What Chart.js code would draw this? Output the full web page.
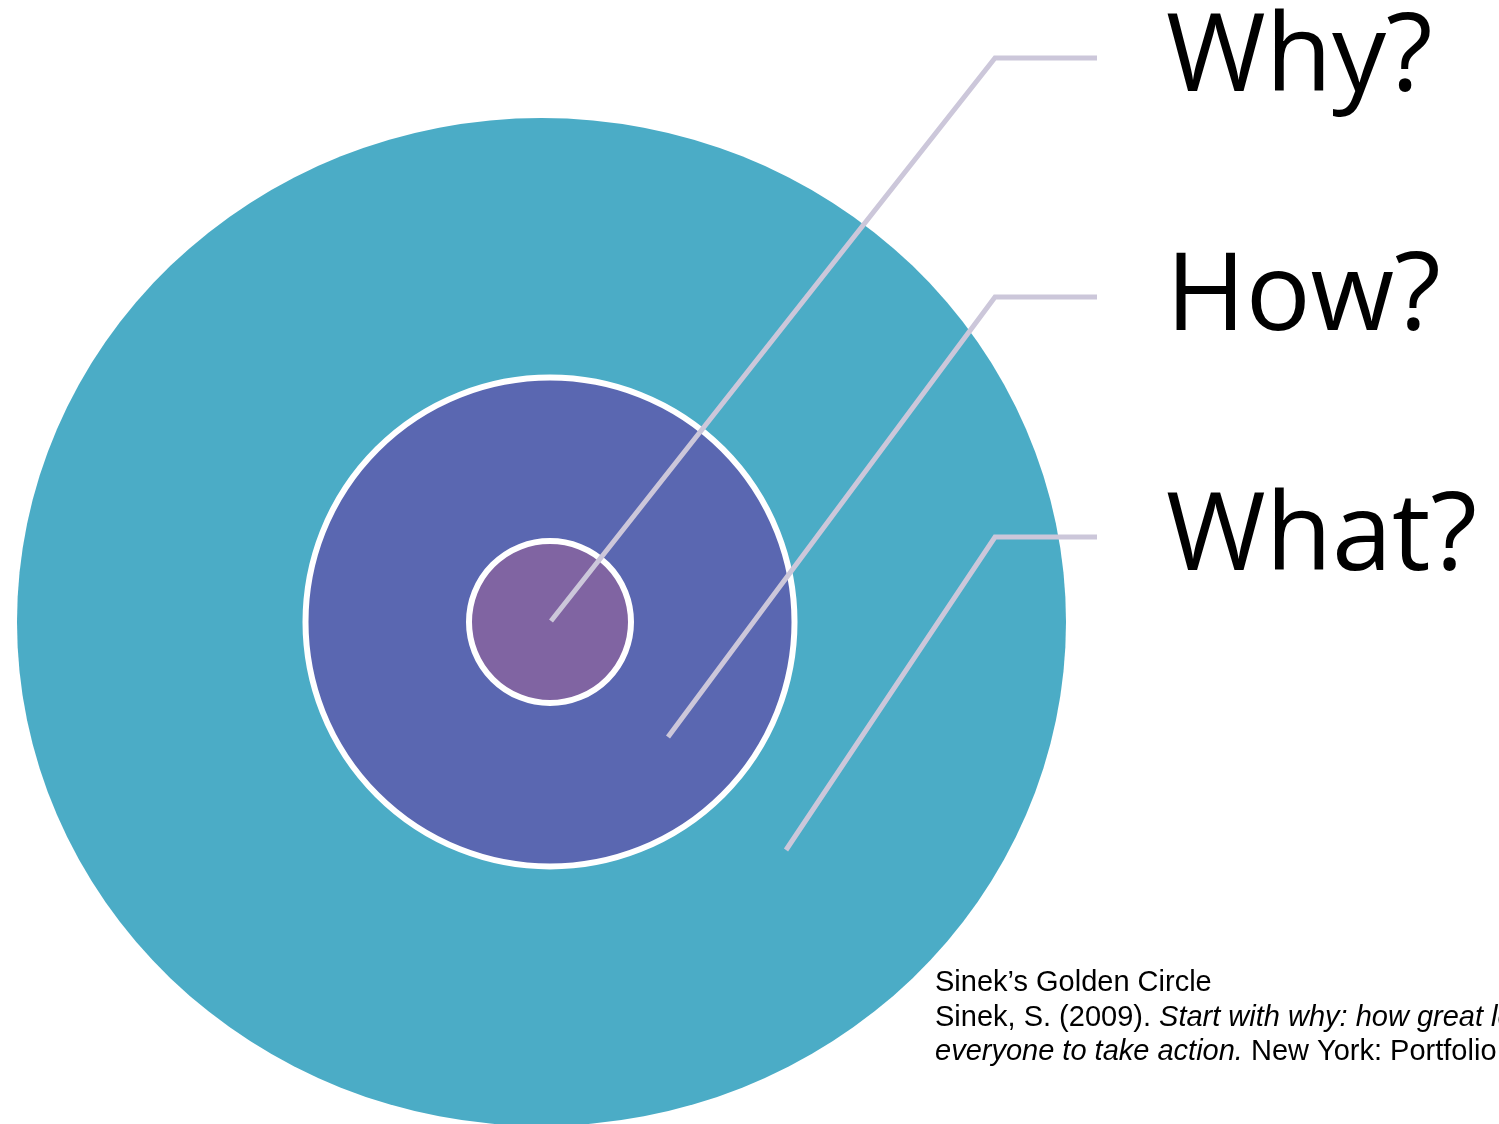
<!DOCTYPE html>
<html>
<head>
<meta charset="utf-8">
<script src="https://cdn.jsdelivr.net/npm/chart.js@4.4.1/dist/chart.umd.min.js"></script>
<style>
  html, body { margin: 0; padding: 0; background: #ffffff; overflow: hidden; }
  #wrap { width: 1499px; height: 1124px; }
</style>
</head>
<body>
<div id="wrap"><canvas id="c" width="1499" height="1124"></canvas></div>
<script>
// ---- Data (diagram units, origin at the centre of the circles, y up) ----
const ringNames   = ['What?', 'How?', 'Why?'];
const ringCenterX = [-8.5, 0, 0];
const ringCenterY = [0, 0, 0];
const ringRadiusX = [524.5, 244.5, 81];
const ringRadiusY = [504, 244.5, 81];

const labels       = ['Why?', 'How?', 'What?'];
const leaderStartX = [1, 118, 236];
const leaderStartY = [1, -115, -228];
const leaderBendX  = [445, 445, 445];
const leaderEndX   = [547, 547, 547];
const leaderY      = [564, 325, 85];

const citationLines = [
  [{t: 'Sinek\u2019s Golden Circle', i: false}],
  [{t: 'Sinek, S. (2009). ', i: false}, {t: 'Start with why: how great leaders inspire', i: true}],
  [{t: 'everyone to take action.', i: true}, {t: ' New York: Portfolio.', i: false}]
];

// ---- Styles ----
const ringColors  = ['#4BACC6', '#5A67B1', '#8064A2'];
const ringBorders = [0, 6, 6];
const leaderColor = '#CCC7DA';

const leaderDatasets = labels.map((lab, k) => ({
  label: lab,
  data: [
    {x: leaderStartX[k], y: leaderStartY[k]},
    {x: leaderBendX[k], y: leaderY[k]},
    {x: leaderEndX[k], y: leaderY[k]}
  ],
  showLine: true,
  borderColor: leaderColor,
  borderWidth: 5,
  pointRadius: 0,
  tension: 0,
  borderCapStyle: 'butt',
  borderJoinStyle: 'miter',
  fill: false
}));

const ringsPlugin = {
  id: 'rings',
  beforeDatasetsDraw(chart) {
    const {ctx, scales: {x, y}} = chart;
    ctx.save();
    ringNames.forEach((n, k) => {
      const cx = x.getPixelForValue(ringCenterX[k]);
      const cy = y.getPixelForValue(ringCenterY[k]);
      const rx = x.getPixelForValue(ringCenterX[k] + ringRadiusX[k]) - cx;
      const ry = cy - y.getPixelForValue(ringCenterY[k] + ringRadiusY[k]);
      ctx.beginPath();
      ctx.ellipse(cx, cy, rx, ry, 0, 0, Math.PI * 2);
      ctx.fillStyle = ringColors[k];
      ctx.fill();
      if (ringBorders[k] > 0) {
        ctx.lineWidth = ringBorders[k];
        ctx.strokeStyle = '#ffffff';
        ctx.stroke();
      }
    });
    ctx.restore();
  }
};

const textPlugin = {
  id: 'texts',
  afterDatasetsDraw(chart) {
    const {ctx, scales: {x, y}} = chart;
    ctx.save();
    ctx.fillStyle = '#000000';
    ctx.textBaseline = 'alphabetic';
    ctx.textAlign = 'left';
    ctx.font = '108px "Open Sans", "Noto Sans", sans-serif';
    labels.forEach((lab, k) => {
      const px = x.getPixelForValue(leaderEndX[k]) + 69;
      const py = y.getPixelForValue(leaderY[k]) + 33;
      ctx.fillText(lab, px, py);
    });
    // citation
    const cx0 = 935;
    let base = 991;
    citationLines.forEach(line => {
      let cx = cx0;
      line.forEach(seg => {
        ctx.font = (seg.i ? 'italic ' : '') + '29px "Liberation Sans", Arial, sans-serif';
        ctx.fillText(seg.t, cx, base);
        cx += ctx.measureText(seg.t).width;
      });
      base += 34.5;
    });
    ctx.restore();
  }
};

new Chart(document.getElementById('c'), {
  type: 'scatter',
  data: { datasets: leaderDatasets },
  options: {
    responsive: false,
    animation: false,
    devicePixelRatio: 1,
    layout: { padding: 0 },
    plugins: { legend: { display: false }, tooltip: { enabled: false } },
    scales: {
      x: { type: 'linear', display: false, min: -550, max: 949 },
      y: { type: 'linear', display: false, min: -502, max: 622 }
    }
  },
  plugins: [ringsPlugin, textPlugin]
});
</script>
</body>
</html>
